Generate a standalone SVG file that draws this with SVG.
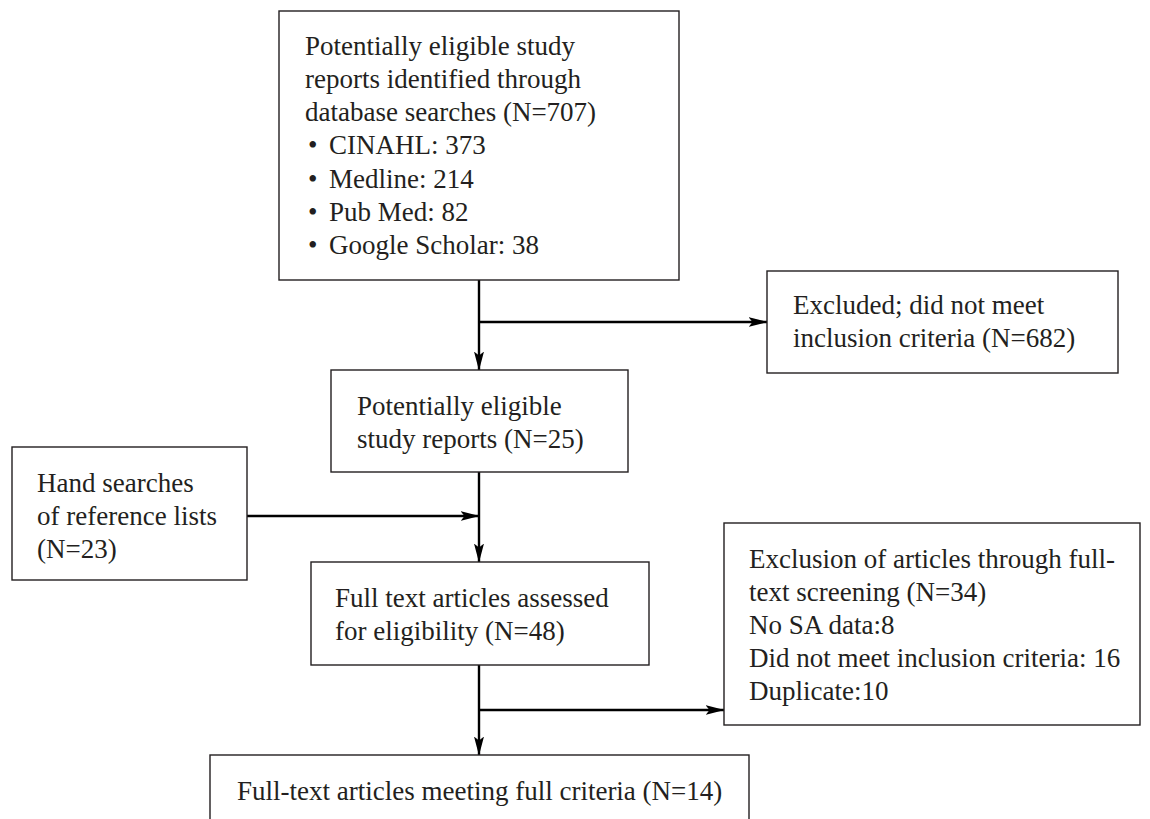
<svg xmlns="http://www.w3.org/2000/svg" width="1150" height="819" viewBox="0 0 1150 819">
<style>
.box{fill:#fff;stroke:#231f20;stroke-width:1.4}
.t{font-family:'Liberation Serif','Times New Roman',serif;font-size:27px;fill:#231f20}
.c{fill:none;stroke:#000;stroke-width:2.4}
</style>
<defs>
<marker id="ah" viewBox="0 0 19 10" refX="18.5" refY="5" markerWidth="19" markerHeight="10" markerUnits="userSpaceOnUse" orient="auto">
<path d="M0,0 L19,5 L0,10 L4,5 Z" fill="#000"/>
</marker>
</defs>
<rect width="1150" height="819" fill="#fff"/>
<g id="connectors">
<line class="c" x1="479" y1="280" x2="479" y2="370" marker-end="url(#ah)"/>
<line class="c" x1="479" y1="322" x2="767" y2="322" marker-end="url(#ah)"/>
<line class="c" x1="479" y1="472" x2="479" y2="562" marker-end="url(#ah)"/>
<line class="c" x1="247" y1="516" x2="479" y2="516" marker-end="url(#ah)"/>
<line class="c" x1="479" y1="665" x2="479" y2="755" marker-end="url(#ah)"/>
<line class="c" x1="479" y1="710" x2="724" y2="710" marker-end="url(#ah)"/>
</g>
<g id="identified">
<rect class="box" x="279" y="11" width="400" height="269"/>
<text class="t" x="305" y="55">Potentially eligible study</text>
<text class="t" x="305" y="88">reports identified through</text>
<text class="t" x="305" y="121">database searches (N=707)</text>
<text class="t" x="308" y="154">•</text><text class="t" x="329" y="154">CINAHL: 373</text>
<text class="t" x="308" y="188">•</text><text class="t" x="329" y="188">Medline: 214</text>
<text class="t" x="308" y="221">•</text><text class="t" x="329" y="221">Pub Med: 82</text>
<text class="t" x="308" y="254">•</text><text class="t" x="329" y="254">Google Scholar: 38</text>
</g>
<g id="excluded">
<rect class="box" x="767" y="271" width="351" height="102"/>
<text class="t" x="793" y="314">Excluded; did not meet</text>
<text class="t" x="793" y="347">inclusion criteria (N=682)</text>
</g>
<g id="eligible">
<rect class="box" x="331" y="370" width="297" height="102"/>
<text class="t" x="357" y="415">Potentially eligible</text>
<text class="t" x="357" y="448">study reports (N=25)</text>
</g>
<g id="hand">
<rect class="box" x="12" y="447" width="235" height="133"/>
<text class="t" x="37" y="492">Hand searches</text>
<text class="t" x="37" y="525">of reference lists</text>
<text class="t" x="37" y="558">(N=23)</text>
</g>
<g id="fulltext">
<rect class="box" x="311" y="562" width="338" height="103"/>
<text class="t" x="335" y="607">Full text articles assessed</text>
<text class="t" x="335" y="640">for eligibility (N=48)</text>
</g>
<g id="exclusion">
<rect class="box" x="724" y="523" width="416" height="202"/>
<text class="t" x="749" y="568">Exclusion of articles through full-</text>
<text class="t" x="749" y="601">text screening (N=34)</text>
<text class="t" x="749" y="634">No SA data:8</text>
<text class="t" x="749" y="667">Did not meet inclusion criteria: 16</text>
<text class="t" x="749" y="700">Duplicate:10</text>
</g>
<g id="final">
<rect class="box" x="210" y="755" width="539" height="80"/>
<text class="t" x="237" y="800">Full-text articles meeting full criteria (N=14)</text>
</g>
</svg>
